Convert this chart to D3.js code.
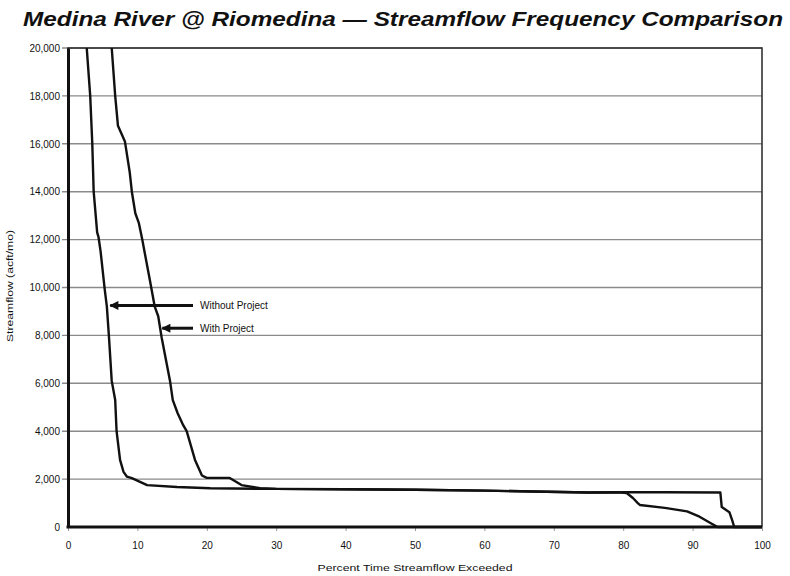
<!DOCTYPE html>
<html>
<head>
<meta charset="utf-8">
<script src="https://cdn.jsdelivr.net/npm/d3@7"></script>
<style>
  html, body { margin: 0; padding: 0; background: #fff; }
  svg { display: block; }
  text { font-family: "Liberation Sans", Arial, sans-serif; fill: #111; }
</style>
</head>
<body>
<svg id="chart" width="790" height="576"></svg>
<script>
// ---- Data (percent time exceeded, streamflow acft/mo) ----
const withoutPct  = [2.7, 3.2, 3.5, 3.7, 4.2, 4.4, 4.7, 5.3, 5.6, 5.9, 6.3, 6.8, 7.0, 7.5, 8.0, 8.5, 9.2, 11.4, 15.7, 20.5, 30, 40, 50, 60, 67, 75, 79.4, 80.5, 81.4, 82.1, 82.4, 86, 89.2, 91, 92.5, 93.6, 100];
const withoutFlow = [20000, 18000, 16000, 14000, 12300, 12100, 11500, 9900, 9200, 7950, 6100, 5300, 4000, 2800, 2300, 2100, 2040, 1750, 1670, 1620, 1590, 1575, 1555, 1520, 1480, 1440, 1450, 1420, 1210, 1000, 920, 800, 650, 430, 180, 0, 0];

const withPct  = [6.3, 6.8, 7.2, 8.2, 8.9, 9.2, 9.7, 10.2, 10.7, 11.8, 12.5, 13.0, 13.5, 14.7, 15.1, 15.8, 16.6, 17.1, 18.3, 19.3, 20.0, 23.3, 25.0, 27.7, 30, 40, 50, 60, 67, 75, 79.4, 86, 94.0, 94.2, 95.3, 95.7, 96.0, 100];
const withFlow = [20000, 18000, 16750, 16100, 14800, 14000, 13100, 12700, 12000, 10300, 9200, 8800, 7900, 6100, 5300, 4750, 4250, 4000, 2800, 2150, 2050, 2050, 1750, 1620, 1590, 1575, 1555, 1520, 1480, 1440, 1450, 1450, 1440, 830, 620, 290, 0, 0];

const yTicks = [0, 2000, 4000, 6000, 8000, 10000, 12000, 14000, 16000, 18000, 20000];
const xTicks = [0, 10, 20, 30, 40, 50, 60, 70, 80, 90, 100];

const titleText = "Medina River @ Riomedina \u2014 Streamflow Frequency Comparison";
const xTitle = "Percent Time Streamflow Exceeded";
const yTitle = "Streamflow (acft/mo)";
const labels = [
  { name: "Without Project", pct: 5.8, flow: 9250 },
  { name: "With Project",    pct: 13.3, flow: 8300 }
];

// ---- Layout ----
const W = 790, H = 576;
const m = { left: 68, right: 28, top: 48, bottom: 49 };
const svg = d3.select("#chart");

const x = d3.scaleLinear().domain([0, 100]).range([m.left, W - m.right]);
const y = d3.scaleLinear().domain([0, 20000]).range([H - m.bottom, m.top]);

// defs: arrowhead whose tip sits at the line end
svg.append("defs").append("marker")
  .attr("id", "arrow")
  .attr("viewBox", "0 0 10 10")
  .attr("refX", 9).attr("refY", 5)
  .attr("markerWidth", 3.4).attr("markerHeight", 3.0)
  .attr("markerUnits", "strokeWidth")
  .attr("orient", "auto")
  .append("path").attr("d", "M0,0 L10,5 L0,10 Z").attr("fill", "#111");

// Title
svg.append("text")
  .attr("x", 23).attr("y", 26)
  .attr("textLength", 760).attr("lengthAdjust", "spacingAndGlyphs")
  .style("font-size", "20px").style("font-weight", "bold").style("font-style", "italic")
  .text(titleText);

// Gridlines
svg.append("g").selectAll("line").data(yTicks.filter(d => d > 0)).join("line")
  .attr("x1", m.left - 6).attr("x2", W - m.right)
  .attr("y1", d => y(d)).attr("y2", d => y(d))
  .attr("stroke", "#8a8a8a").attr("stroke-width", 1.4);

// Frame (top/right)
svg.append("rect")
  .attr("x", m.left).attr("y", m.top)
  .attr("width", W - m.left - m.right).attr("height", H - m.top - m.bottom)
  .attr("fill", "none").attr("stroke", "#333").attr("stroke-width", 1.6);

// Y axis
const yAxis = d3.axisLeft(y).tickValues(yTicks).tickSize(0).tickPadding(8)
  .tickFormat(d3.format(","));
const gy = svg.append("g").attr("transform", `translate(${m.left},0)`).call(yAxis);
gy.select(".domain").attr("stroke", "#111").attr("stroke-width", 3);
gy.selectAll("text").style("font-size", "10px").style("font-family", "'Liberation Sans', Arial, sans-serif").attr("fill", "#222");

// X axis
const xAxis = d3.axisBottom(x).tickValues(xTicks).tickSize(4).tickPadding(11);
const gx = svg.append("g").attr("transform", `translate(0,${H - m.bottom})`).call(xAxis);
gx.select(".domain").remove();
gx.selectAll(".tick line").attr("stroke", "#999").attr("stroke-width", 1);
gx.selectAll("text").style("font-size", "10px").style("font-family", "'Liberation Sans', Arial, sans-serif").attr("fill", "#222");

// Curves
const line = d3.line().x(d => x(d[0])).y(d => y(d[1]));
const series = [
  d3.zip(withoutPct, withoutFlow),
  d3.zip(withPct, withFlow)
];
svg.append("g").selectAll("path").data(series).join("path")
  .attr("d", line)
  .attr("fill", "none").attr("stroke", "#111").attr("stroke-width", 2.4)
  .attr("stroke-linejoin", "round");

// Bottom axis line (thick)
svg.append("line")
  .attr("x1", m.left - 1.5).attr("x2", W - m.right)
  .attr("y1", y(0)).attr("y2", y(0))
  .attr("stroke", "#111").attr("stroke-width", 3.2);

// Annotations
const labelX = 200, arrowStart = 193;
const ann = svg.append("g");
labels.forEach(l => {
  const yy = y(l.flow);
  ann.append("line")
    .attr("x1", arrowStart).attr("x2", x(l.pct) + 2)
    .attr("y1", yy).attr("y2", yy)
    .attr("stroke", "#111").attr("stroke-width", 3)
    .attr("marker-end", "url(#arrow)");
  ann.append("text")
    .attr("x", labelX).attr("y", yy + 3.5)
    .style("font-size", "10px")
    .text(l.name);
});

// Axis titles
svg.append("text")
  .attr("x", (m.left + W - m.right) / 2).attr("y", 571)
  .attr("text-anchor", "middle")
  .attr("textLength", 195).attr("lengthAdjust", "spacingAndGlyphs")
  .style("font-size", "9.5px")
  .text(xTitle);

svg.append("text")
  .attr("transform", `translate(13,${286}) rotate(-90)`)
  .attr("text-anchor", "middle")
  .attr("textLength", 112).attr("lengthAdjust", "spacingAndGlyphs")
  .style("font-size", "9.5px")
  .text(yTitle);
</script>
</body>
</html>
